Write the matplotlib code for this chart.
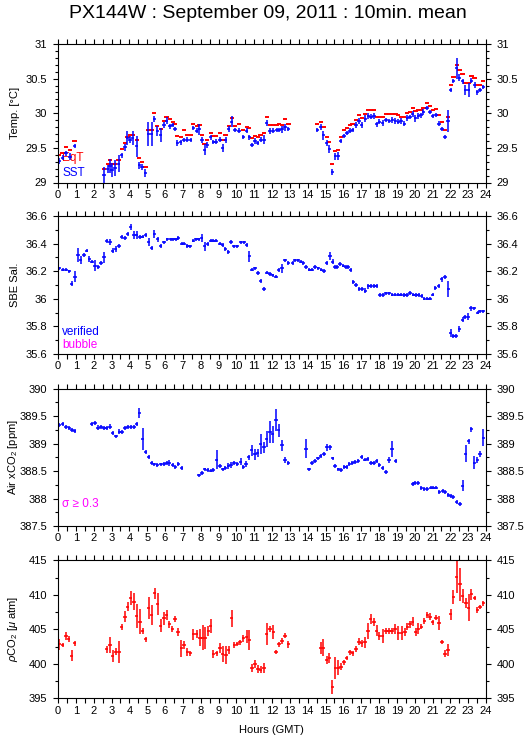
import matplotlib
matplotlib.use('Agg')
import matplotlib.pyplot as plt
from matplotlib.ticker import MultipleLocator, FuncFormatter

plt.rcParams['font.family'] = ['Liberation Sans', 'DejaVu Sans']
plt.rcParams['mathtext.fontset'] = 'custom'
plt.rcParams['mathtext.rm'] = 'Liberation Sans'
plt.rcParams['mathtext.it'] = 'Liberation Sans:italic'

# ---------------- data ----------------
# Temperature panel (same time stamps for SST and equilibrator T)
sst_h = [0.07, 0.26, 0.45, 0.67, 0.93,
         2.58, 2.79, 2.92, 3.03, 3.2, 3.4, 3.57, 3.76, 3.89, 4.04, 4.19, 4.41, 4.56, 4.71, 4.9,
         5.07, 5.25, 5.4, 5.57, 5.76, 5.94, 6.09, 6.28, 6.43, 6.56, 6.69, 6.88, 7.07, 7.25, 7.44, 7.59,
         7.78, 7.93, 8.07, 8.22, 8.37, 8.56, 8.71, 8.86, 9.08, 9.23, 9.4, 9.57, 9.74, 9.93, 10.15, 10.39,
         10.58, 10.73, 10.88, 11.05, 11.2, 11.36, 11.55, 11.7, 11.89, 12.07, 12.26, 12.41, 12.56, 12.73, 12.92,
         14.54, 14.73, 14.88, 15.07, 15.21, 15.38, 15.55, 15.72, 15.85, 16.04, 16.21, 16.37, 16.52, 16.71,
         16.88, 17.03, 17.23, 17.4, 17.55, 17.72, 17.87, 18.02, 18.21, 18.39, 18.58, 18.75, 18.92, 19.08,
         19.23, 19.42, 19.59, 19.74, 19.89, 20.04, 20.21, 20.36, 20.49, 20.69, 20.86, 21.01, 21.2, 21.36,
         21.53, 21.7, 21.87, 22.02, 22.17, 22.36, 22.51, 22.69, 22.84, 23.03, 23.18, 23.36, 23.51, 23.66, 23.85]
sst_v = [29.31, 29.36, 29.42, 29.37, 29.53,
         29.11, 29.19, 29.24, 29.18, 29.21, 29.27, 29.39, 29.51, 29.64, 29.62, 29.64, 29.52, 29.25, 29.22, 29.14,
         29.70, 29.70, 29.92, 29.74, 29.69, 29.83, 29.89, 29.81, 29.83, 29.77, 29.57, 29.58, 29.61, 29.62, 29.61, 29.79,
         29.75, 29.77, 29.61, 29.47, 29.54, 29.65, 29.59, 29.59, 29.62, 29.50, 29.61, 29.77, 29.88, 29.76, 29.75, 29.66,
         29.75, 29.65, 29.54, 29.60, 29.57, 29.62, 29.62, 29.86, 29.74, 29.75, 29.76, 29.76, 29.77, 29.80, 29.77,
         29.76, 29.80, 29.68, 29.57, 29.48, 29.15, 29.38, 29.38, 29.60, 29.67, 29.71, 29.75, 29.76, 29.83,
         29.89, 29.83, 29.92, 29.96, 29.95, 29.96, 29.84, 29.88, 29.86, 29.90, 29.89, 29.90, 29.89, 29.88,
         29.89, 29.85, 29.93, 29.94, 29.99, 29.93, 29.96, 29.97, 30.02, 30.07, 30.02, 29.96, 29.97, 29.85,
         29.77, 29.66, 29.89, 30.34, 30.46, 30.65, 30.51, 30.46, 30.34, 30.34, 30.47, 30.41, 30.30, 30.34, 30.38]
sst_e = [0.05, 0.04, 0.04, 0.05, 0.03,
         0.12, 0.06, 0.10, 0.10, 0.12, 0.12, 0.04, 0.05, 0.10, 0.05, 0.10, 0.15, 0.05, 0.04, 0.06,
         0.17, 0.17, 0.04, 0.07, 0.10, 0.04, 0.05, 0.04, 0.03, 0.03, 0.05, 0.04, 0.03, 0.03, 0.03, 0.03,
         0.04, 0.08, 0.04, 0.08, 0.04, 0.03, 0.03, 0.04, 0.04, 0.06, 0.04, 0.04, 0.08, 0.03, 0.03, 0.03,
         0.04, 0.03, 0.03, 0.04, 0.03, 0.03, 0.07, 0.04, 0.04, 0.03, 0.03, 0.03, 0.05, 0.05, 0.03,
         0.03, 0.04, 0.06, 0.04, 0.06, 0.04, 0.05, 0.06, 0.03, 0.03, 0.03, 0.03, 0.03, 0.05,
         0.04, 0.04, 0.05, 0.05, 0.04, 0.04, 0.04, 0.04, 0.04, 0.03, 0.03, 0.04, 0.04, 0.04,
         0.04, 0.04, 0.04, 0.03, 0.04, 0.05, 0.04, 0.04, 0.04, 0.03, 0.03, 0.03, 0.03, 0.04,
         0.03, 0.03, 0.16, 0.03, 0.03, 0.15, 0.05, 0.04, 0.07, 0.10, 0.04, 0.04, 0.03, 0.03, 0.03]
teq_v = [29.40, 29.43, 29.51, 29.47, 29.60,
         29.20, 29.27, 29.33, 29.27, 29.27, 29.33, 29.48, 29.57, 29.66, 29.69, 29.69, 29.62, 29.36, 29.30, 29.23,
         29.76, 29.76, 30.01, 29.82, 29.77, 29.89, 29.95, 29.91, 29.88, 29.85, 29.67, 29.66, 29.76, 29.69, 29.69, 29.85,
         29.81, 29.83, 29.69, 29.56, 29.62, 29.72, 29.67, 29.67, 29.72, 29.61, 29.68, 29.81, 29.93, 29.81, 29.84, 29.76,
         29.80, 29.78, 29.64, 29.67, 29.65, 29.69, 29.71, 29.94, 29.83, 29.83, 29.83, 29.85, 29.83, 29.91, 29.85,
         29.85, 29.87, 29.80, 29.66, 29.59, 29.27, 29.45, 29.47, 29.66, 29.76, 29.78, 29.83, 29.84, 29.90,
         29.97, 29.93, 29.99, 30.04, 30.04, 30.04, 29.95, 29.95, 29.95, 29.99, 29.99, 29.99, 29.99, 29.97,
         29.95, 29.95, 30.01, 30.02, 30.07, 30.03, 30.04, 30.05, 30.07, 30.15, 30.11, 30.04, 30.06, 29.98,
         29.88, 29.76, 29.94, 30.41, 30.53, 30.70, 30.62, 30.57, 30.43, 30.43, 30.54, 30.51, 30.41, 30.41, 30.46]

# Salinity panel
sal_h = [0.07, 0.26, 0.45, 0.64, 0.77, 0.95, 1.12, 1.27, 1.46, 1.61, 1.76, 1.91, 2.07, 2.26, 2.41, 2.58,
         2.73, 2.92, 3.07, 3.23, 3.42, 3.57, 3.76, 3.91, 4.07, 4.26, 4.41, 4.6, 4.75, 4.92, 5.08, 5.25,
         5.4, 5.59, 5.76, 5.94, 6.13, 6.32, 6.47, 6.62, 6.75, 6.93, 7.07, 7.25, 7.4, 7.59, 7.74, 7.89,
         8.06, 8.22, 8.39, 8.56, 8.71, 8.86, 9.08, 9.23, 9.38, 9.55, 9.7, 9.87, 10.06, 10.24, 10.43, 10.58,
         10.73, 10.88, 11.05, 11.21, 11.36, 11.55, 11.72, 11.89, 12.04, 12.22, 12.37, 12.56, 12.73, 12.92,
         13.16, 13.29, 13.48, 13.61, 13.76, 13.91, 14.09, 14.24, 14.41, 14.6, 14.77, 14.92, 15.07, 15.25,
         15.4, 15.53, 15.66, 15.81, 16.0, 16.15, 16.28, 16.41, 16.56, 16.71, 16.9, 17.07, 17.23, 17.4,
         17.53, 17.72, 17.87, 18.06, 18.24, 18.39, 18.58, 18.75, 18.92, 19.08, 19.21, 19.4, 19.57, 19.74,
         19.93, 20.07, 20.22, 20.39, 20.54, 20.71, 20.86, 21.01, 21.16, 21.35, 21.51, 21.7, 21.89, 22.02,
         22.17, 22.32, 22.5, 22.69, 22.82, 23.01, 23.16, 23.35, 23.53, 23.66, 23.85]
sal_v = [36.22, 36.21, 36.21, 36.20, 36.11, 36.16, 36.32, 36.28, 36.32, 36.35, 36.29, 36.27, 36.24, 36.23, 36.26, 36.30,
         36.42, 36.41, 36.35, 36.36, 36.38, 36.45, 36.44, 36.47, 36.52, 36.46, 36.46, 36.45, 36.45, 36.46, 36.41, 36.37,
         36.47, 36.43, 36.38, 36.41, 36.43, 36.43, 36.43, 36.43, 36.44, 36.40, 36.40, 36.38, 36.38, 36.42, 36.43, 36.43,
         36.44, 36.38, 36.40, 36.42, 36.42, 36.42, 36.40, 36.39, 36.36, 36.34, 36.41, 36.38, 36.38, 36.41, 36.41, 36.39,
         36.31, 36.21, 36.22, 36.19, 36.13, 36.07, 36.19, 36.18, 36.17, 36.16, 36.21, 36.22, 36.28, 36.26,
         36.26, 36.28, 36.28, 36.27, 36.26, 36.23, 36.21, 36.21, 36.23, 36.22, 36.21, 36.20, 36.26, 36.31,
         36.27, 36.23, 36.23, 36.25, 36.24, 36.23, 36.23, 36.21, 36.12, 36.10, 36.07, 36.07, 36.06, 36.09,
         36.09, 36.09, 36.09, 36.03, 36.03, 36.04, 36.04, 36.03, 36.03, 36.03, 36.03, 36.03, 36.03, 36.04,
         36.03, 36.03, 36.03, 36.02, 36.00, 36.00, 36.00, 36.03, 36.08, 36.09, 36.14, 36.16, 36.07, 35.75,
         35.73, 35.73, 35.78, 35.85, 35.87, 35.87, 35.93, 35.93, 35.90, 35.91, 35.91]
sal_e = [0.012, 0.012, 0.012, 0.012, 0.02, 0.04, 0.05, 0.03, 0.015, 0.012, 0.02, 0.012, 0.04, 0.012, 0.012, 0.04,
         0.015, 0.02, 0.015, 0.02, 0.015, 0.015, 0.012, 0.015, 0.02, 0.03, 0.03, 0.015, 0.012, 0.015, 0.03, 0.015,
         0.03, 0.015, 0.015, 0.012, 0.012, 0.012, 0.012, 0.012, 0.012, 0.012, 0.012, 0.015, 0.012, 0.012, 0.012, 0.012,
         0.03, 0.03, 0.015, 0.012, 0.012, 0.012, 0.012, 0.012, 0.015, 0.015, 0.015, 0.012, 0.012, 0.012, 0.012, 0.012,
         0.04, 0.012, 0.012, 0.015, 0.015, 0.015, 0.012, 0.012, 0.012, 0.012, 0.015, 0.03, 0.012, 0.012,
         0.012, 0.012, 0.012, 0.012, 0.012, 0.015, 0.012, 0.012, 0.012, 0.012, 0.012, 0.015, 0.015, 0.03,
         0.015, 0.012, 0.012, 0.015, 0.012, 0.012, 0.012, 0.015, 0.015, 0.012, 0.012, 0.015, 0.015, 0.02,
         0.015, 0.015, 0.015, 0.015, 0.015, 0.012, 0.012, 0.012, 0.012, 0.012, 0.012, 0.015, 0.015, 0.015,
         0.012, 0.015, 0.015, 0.012, 0.012, 0.012, 0.012, 0.012, 0.015, 0.015, 0.015, 0.015, 0.06, 0.03,
         0.015, 0.015, 0.02, 0.02, 0.015, 0.025, 0.02, 0.012, 0.012, 0.012, 0.012]

# Air xCO2 panel
xco_h = [0.07, 0.26, 0.45, 0.64, 0.79, 0.93,
         1.89, 2.07, 2.24, 2.41, 2.58, 2.73, 2.92, 3.07, 3.25, 3.44, 3.59, 3.76, 3.91, 4.07, 4.26, 4.41,
         4.56, 4.75, 4.92, 5.08, 5.25, 5.4, 5.57, 5.76, 5.94, 6.09, 6.24, 6.43, 6.58, 6.75, 6.93,
         7.91, 8.07, 8.22, 8.39, 8.56, 8.71, 8.9, 9.08, 9.23, 9.38, 9.55, 9.7, 9.87, 10.06, 10.24, 10.39,
         10.54, 10.69, 10.86, 11.05, 11.2, 11.36, 11.55, 11.7, 11.89, 12.04, 12.22, 12.37, 12.56, 12.73, 12.92,
         13.91, 14.07, 14.24, 14.41, 14.58, 14.73, 14.92, 15.07, 15.25, 15.4, 15.53, 15.72, 15.87, 16.06,
         16.19, 16.34, 16.51, 16.66, 16.84, 17.03, 17.21, 17.36, 17.55, 17.72, 17.87, 18.02, 18.21, 18.39,
         18.56, 18.73, 18.93,
         19.89, 20.02, 20.21, 20.38, 20.53, 20.71, 20.9, 21.05, 21.2, 21.38, 21.57, 21.72, 21.89, 22.02,
         22.17, 22.36, 22.54, 22.69, 22.86, 23.03, 23.18, 23.35, 23.51, 23.66, 23.85]
xco_v = [389.34, 389.36, 389.31, 389.29, 389.25, 389.23,
         389.36, 389.38, 389.29, 389.30, 389.28, 389.29, 389.31, 389.19, 389.13, 389.22, 389.21, 389.28, 389.31,
         389.31, 389.31, 389.36, 389.55, 389.08, 388.85, 388.76, 388.64, 388.62, 388.61, 388.62, 388.63, 388.64,
         388.65, 388.61, 388.58, 388.63, 388.55,
         388.42, 388.47, 388.53, 388.52, 388.51, 388.52, 388.71, 388.59, 388.53, 388.55, 388.59, 388.61, 388.64,
         388.63, 388.67, 388.57, 388.63, 388.75, 388.88, 388.81, 388.83, 388.99, 388.93, 389.08, 389.22, 389.17,
         389.43, 389.24, 388.97, 388.70, 388.64,
         388.91, 388.53, 388.64, 388.69, 388.73, 388.77, 388.81, 388.93, 388.93, 388.73, 388.59, 388.53, 388.52,
         388.57, 388.57, 388.63, 388.65, 388.67, 388.68, 388.76, 388.71, 388.72, 388.65, 388.64, 388.69, 388.61,
         388.55, 388.49, 388.70, 388.90, 388.68,
         388.26, 388.29, 388.28, 388.19, 388.18, 388.18, 388.20, 388.20, 388.20, 388.12, 388.14, 388.12, 388.06,
         388.05, 388.03, 387.94, 387.90, 388.23, 388.82, 389.04, 389.26, 388.65, 388.70, 388.81, 389.11]
xco_e = [0.035, 0.035, 0.035, 0.035, 0.035, 0.035,
         0.035, 0.035, 0.04, 0.035, 0.035, 0.035, 0.04, 0.04, 0.035, 0.04, 0.035, 0.035, 0.035,
         0.035, 0.035, 0.035, 0.09, 0.2, 0.035, 0.035, 0.035, 0.035, 0.035, 0.035, 0.035, 0.035,
         0.06, 0.035, 0.035, 0.035, 0.035,
         0.035, 0.035, 0.035, 0.035, 0.035, 0.035, 0.17, 0.035, 0.035, 0.035, 0.05, 0.05, 0.035,
         0.035, 0.06, 0.035, 0.05, 0.05, 0.1, 0.1, 0.07, 0.18, 0.1, 0.15, 0.2, 0.15,
         0.2, 0.12, 0.1, 0.06, 0.035,
         0.18, 0.035, 0.035, 0.035, 0.035, 0.035, 0.035, 0.06, 0.05, 0.035, 0.035, 0.035, 0.035,
         0.035, 0.035, 0.035, 0.035, 0.035, 0.035, 0.035, 0.035, 0.035, 0.035, 0.035, 0.035, 0.035,
         0.035, 0.035, 0.06, 0.15, 0.035,
         0.035, 0.035, 0.04, 0.035, 0.035, 0.035, 0.035, 0.035, 0.035, 0.035, 0.035, 0.035, 0.035,
         0.035, 0.035, 0.035, 0.035, 0.1, 0.15, 0.05, 0.05, 0.12, 0.05, 0.05, 0.15]

# pCO2 panel
pco_h = [0.07, 0.26, 0.45, 0.6, 0.77, 0.93,
         2.73, 2.92, 3.07, 3.23, 3.42, 3.57, 3.76, 3.91, 4.07, 4.26, 4.41, 4.6, 4.75, 4.92, 5.08, 5.25,
         5.42, 5.59, 5.76, 5.94, 6.09, 6.24, 6.41, 6.56, 6.73, 6.92, 7.07, 7.25, 7.42, 7.59, 7.78, 7.96,
         8.11, 8.26, 8.43, 8.56, 8.71, 8.9, 9.08, 9.23, 9.42, 9.57, 9.74, 9.89, 10.06, 10.21, 10.39, 10.58,
         10.73, 10.88, 11.05, 11.21, 11.36, 11.55, 11.7, 11.89, 12.07, 12.22, 12.39, 12.56, 12.73, 12.92,
         14.73, 14.88, 15.07, 15.21, 15.38, 15.55, 15.72, 15.87, 16.04, 16.19, 16.37, 16.52, 16.71, 16.88,
         17.03, 17.21, 17.38, 17.53, 17.72, 17.87, 18.02, 18.21, 18.39, 18.56, 18.73, 18.9, 19.08, 19.27,
         19.46, 19.59, 19.74, 19.89, 20.06, 20.21, 20.38, 20.54, 20.71, 20.86, 21.01, 21.2, 21.36, 21.53,
         21.7, 21.87, 22.02, 22.17, 22.36, 22.54, 22.69, 22.88, 23.03, 23.18, 23.36, 23.51, 23.66, 23.85]
pco_v = [402.83, 402.73, 404.08, 403.60, 401.18, 402.97,
         402.10, 402.73, 401.14, 401.76, 401.76, 405.34, 406.84, 408.29, 409.49, 409.00, 406.93, 406.11,
         404.76, 403.55, 408.04, 407.08, 410.22, 408.72, 405.53, 406.59, 407.08, 405.72, 405.05, 406.50,
         404.66, 402.25, 402.73, 401.67, 401.52, 404.28, 404.28, 403.79, 403.79, 403.79, 404.76, 405.53,
         401.43, 401.52, 402.25, 401.43, 401.28, 402.00, 406.59, 402.73, 402.83, 403.12, 403.70, 403.94,
         403.45, 399.35, 399.93, 399.20, 399.11, 399.35, 404.28, 405.05, 404.57, 401.67, 402.83, 403.31,
         404.08, 402.83,
         402.25, 402.34, 400.56, 400.80, 396.69, 399.44, 399.44, 399.59, 400.22, 400.80, 401.67, 401.52,
         402.15, 403.21, 402.97, 403.12, 404.76, 406.50, 406.11, 404.76, 404.08, 404.08, 404.76, 404.76,
         404.76, 405.05, 404.42, 404.42, 404.57, 405.39, 405.72, 406.11, 404.57, 405.05, 405.39, 406.21,
         407.08, 406.84, 406.01, 406.69, 405.87, 403.21, 401.43, 402.00, 407.17, 409.73, 412.63, 411.52,
         409.88, 408.77, 408.14, 410.07, 409.59, 407.80, 408.19, 408.77]
pco_e = [0.8, 0.3, 0.6, 0.4, 0.8, 0.4,
         0.5, 1.2, 0.9, 0.5, 1.6, 0.5, 0.8, 0.6, 1.0, 1.2, 1.7, 1.8, 0.4, 0.4, 1.6, 1.5,
         0.8, 1.6, 0.9, 0.9, 0.7, 0.5, 0.4, 0.4, 0.6, 1.2, 0.6, 0.6, 0.4, 0.8, 0.6, 1.2,
         1.8, 1.6, 0.7, 1.0, 0.6, 0.4, 0.7, 1.2, 1.3, 0.6, 1.2, 0.5, 0.3, 0.4, 0.5, 0.9,
         1.4, 0.6, 0.6, 0.6, 0.5, 0.7, 1.6, 0.4, 1.0, 0.3, 0.4, 0.4, 0.4, 0.5,
         0.9, 1.2, 0.6, 0.7, 1.0, 1.6, 1.1, 0.5, 0.4, 0.3, 0.4, 0.4, 0.5, 0.5,
         0.5, 0.8, 1.2, 0.7, 0.6, 0.8, 0.6, 1.0, 0.4, 0.4, 0.4, 0.7, 1.0, 1.0,
         0.6, 0.5, 0.5, 0.7, 0.6, 0.8, 0.4, 0.4, 0.4, 0.5, 0.4, 0.4, 1.0, 0.3,
         0.5, 0.9, 0.8, 1.0, 2.3, 2.4, 1.0, 0.7, 2.0, 0.8, 0.3, 0.4, 0.3, 0.4]

hours = list(range(25))
W, H = 529, 739

fig = plt.figure(figsize=(W / 100, H / 100), dpi=100)


def axes_at(top, bottom):
    left, right = 58, 486
    return fig.add_axes([left / W, 1 - bottom / H, (right - left) / W, (bottom - top) / H])


def style(ax, ylo, yhi, ymaj, ymin, label):
    ax.set_xlim(0, 24)
    ax.set_ylim(ylo, yhi)
    ax.set_xticks(hours)
    ax.xaxis.set_minor_locator(MultipleLocator(0.5))
    ax.yaxis.set_major_locator(MultipleLocator(ymaj))
    ax.yaxis.set_minor_locator(MultipleLocator(ymin))
    ax.yaxis.set_major_formatter(FuncFormatter(lambda v, p: '%g' % round(v, 3)))
    ax.tick_params(which='both', direction='out', top=True, right=True, labelright=True,
                   width=0.8, labelsize=8, colors='black')
    ax.tick_params(axis='x', which='both', length=3.8, pad=1.5)
    ax.tick_params(axis='y', which='major', length=3.8, pad=4)
    ax.tick_params(axis='y', which='minor', length=2.2)
    for s in ax.spines.values():
        s.set_linewidth(0.8)
    ax.set_ylabel(label, fontsize=8)
    ax.yaxis.set_label_coords(-0.088, 0.5)


def plus(ax, x, y, e, color, xe=0.09):
    ax.errorbar(x, y, yerr=e, xerr=xe, fmt='none', ecolor=color, elinewidth=1.1, capsize=0)


# Panel 1: temperature
ax1 = axes_at(44, 182.5)
ax1.text(0.01, 0.175, 'EqT', color='red', fontsize=8.5, transform=ax1.transAxes, va='center', zorder=0)
ax1.errorbar(sst_h, teq_v, xerr=0.12, fmt='none', ecolor='red', elinewidth=1.4, capsize=0)
plus(ax1, sst_h, sst_v, sst_e, 'blue')
ax1.text(0.01, 0.071, 'SST', color='blue', fontsize=8.5, transform=ax1.transAxes, va='center')
style(ax1, 29, 31, 0.5, 0.1, 'Temp. [°C]')

# Panel 2: salinity
ax2 = axes_at(216, 354)
plus(ax2, sal_h, sal_v, sal_e, 'blue')
ax2.text(0.01, 0.157, 'verified', color='blue', fontsize=8.5, transform=ax2.transAxes, va='center')
ax2.text(0.01, 0.065, 'bubble', color='magenta', fontsize=8.5, transform=ax2.transAxes, va='center')
style(ax2, 35.6, 36.6, 0.2, 0.1, 'SBE Sal.')

# Panel 3: atmospheric xCO2
ax3 = axes_at(388.7, 526)
plus(ax3, xco_h, xco_v, xco_e, 'blue')
ax3.text(0.01, 0.158, 'σ ≥ 0.3', color='magenta', fontsize=8.5, transform=ax3.transAxes, va='center')
style(ax3, 387.5, 390, 0.5, 0.25, 'Air xCO$_2$ [ppm]')

# Panel 4: pCO2
ax4 = axes_at(560.3, 698.3)
plus(ax4, pco_h, pco_v, pco_e, 'red')
style(ax4, 395, 415, 5, 2.5, '$\\rho$CO$_2$ [$\\mu$ atm]')

fig.text(268 / W, 1 - 14 / H, 'PX144W : September 09, 2011 : 10min. mean', fontsize=14,
         ha='center', va='center')
fig.text(271 / W, 1 - 730 / H, 'Hours (GMT)', fontsize=8, ha='center', va='center')

fig.savefig('out.png', dpi=100)
